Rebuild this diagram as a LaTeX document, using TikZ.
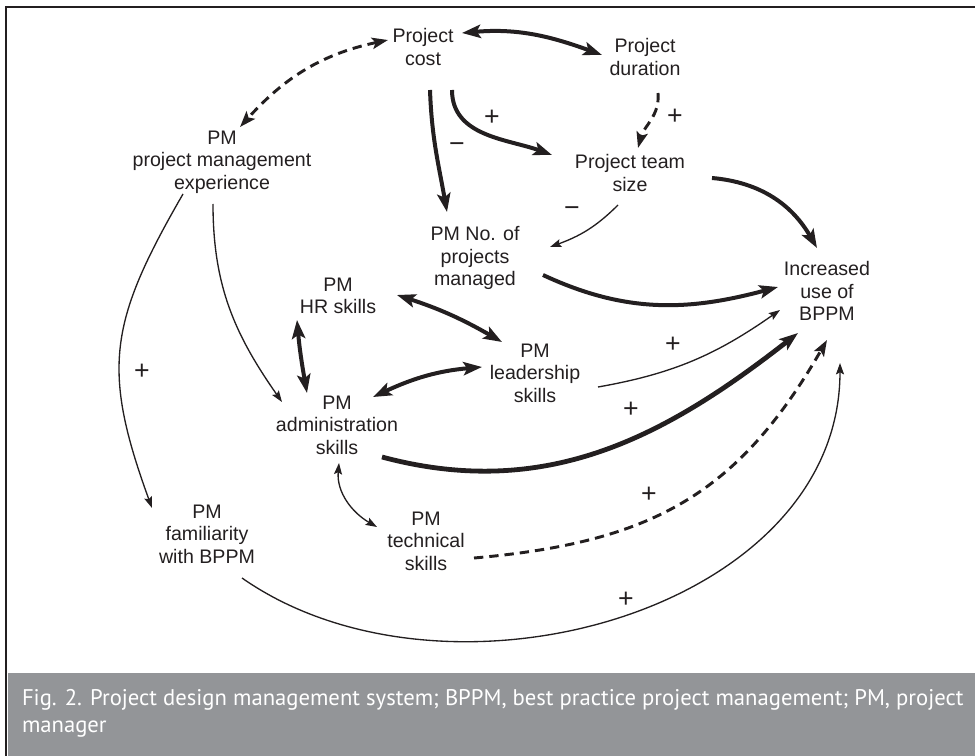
\documentclass[tikz,border=0pt]{standalone}
\usepackage{fontspec}
\setmainfont{Liberation Sans}
\newfontfamily\capfont{PT Sans}
\usetikzlibrary{arrows.meta}
\usetikzlibrary{calc}
\definecolor{capgray}{RGB}{147,149,152}
\definecolor{ink}{RGB}{35,31,32}

\begin{document}
\begin{tikzpicture}[x=0.75pt,y=0.75pt,inner sep=0pt,outer sep=0pt,ink,
factor/.style={align=center,font=\fontsize{14.7}{16.9}\selectfont},
sign/.style={font=\fontsize{20}{22}\selectfont},
weak/.style={line width=1pt,>={Stealth[length=8.5pt,width=6pt,inset=1.5pt]}},
strong/.style={line width=3pt,>={Stealth[length=14pt,width=10pt,inset=3pt]}},
heavy/.style={strong,line width=3.6pt},
dashlink/.style={line width=2.2pt,dash pattern=on 7pt off 4.5pt,>={Stealth[length=12pt,width=8.5pt,inset=2.5pt]}}]
\useasboundingbox (0,0) rectangle (975,-756);
\fill[capgray] (8,-673) rectangle (975,-756);
\draw[line width=2.2pt,line cap=rect] (975,-7) -- (6,-7) -- (6,-756);

\node[factor] (cost) at (423,-47) {Project\\cost};
\node[factor] (dur) at (645,-57) {Project\\duration};
\node[factor] (exp) at (222,-162) {PM\\project management\\experience};
\node[factor] (team) at (630,-173) {Project team\\size};
\node[factor] (nprj) at (475,-258) {PM No. of\\projects\\managed};
\node[factor] (bppm) at (827,-291) {Increased\\use of\\BPPM};
\node[factor] (hr) at (338,-296) {PM\\HR skills};
\node[factor] (lead) at (535,-373) {PM\\leadership\\skills};
\node[factor] (admin) at (337,-425) {PM\\administration\\skills};
\node[factor] (fam) at (207,-534) {PM\\familiarity\\with BPPM};
\node[factor] (tech) at (426,-541) {PM\\technical\\skills};

\draw[dashlink,<->] ($(cost)+(-35,7)$) to[out=192,in=48] ($(exp)+(18,35)$);
\draw[strong,<->] ($(cost)+(39,14)$) to[out=5,in=160] ($(dur)+(-43,2)$);
\draw[strong,->] ($(cost)+(7,-43)$) to[out=-88,in=100] ($(nprj)+(-28,46)$);
\draw[strong,->] ($(cost)+(29,-43)$) to[out=-90,in=160] ($(team)+(-78,18)$);
\draw[dashlink,->] ($(dur)+(13,-36)$) to[out=-85,in=75] ($(team)+(8,25)$);
\draw[weak,->] ($(team)+(-12,-32)$) to[out=225,in=20] ($(nprj)+(75,11)$);
\draw[strong,->] ($(team)+(82,-5)$) to[out=-5,in=120] ($(bppm)+(-10,43)$);
\draw[strong,->] ($(nprj)+(68,-17)$) to[out=-25,in=195] ($(bppm)+(-49,4)$);
\draw[strong,<->] ($(hr)+(59,1)$) to[out=-18,in=150] ($(lead)+(-33,31)$);
\draw[strong,<->] ($(hr)+(-41,-24)$) to[out=-85,in=100] ($(admin)+(-30,32)$);
\draw[strong,<->] ($(admin)+(36,28)$) to[out=25,in=185] ($(lead)+(-53,6)$);
\draw[weak,->] ($(lead)+(63,-14)$) to[out=10,in=215] ($(bppm)+(-47,-19)$);
\draw[heavy,->] ($(admin)+(45,-32)$) to[out=-15,in=218] ($(bppm)+(-29,-42)$);
\draw[weak,->] ($(exp)+(-9,-42)$) to[out=-90,in=125] ($(admin)+(-55,23)$);
\draw[weak,->] ($(exp)+(-39,-32)$) to[out=-120,in=110,looseness=1.2] ($(fam)+(-55,26)$);
\draw[weak,<->] ($(admin)+(2,-38)$) to[out=-95,in=150] ($(tech)+(-49,14)$);
\draw[dashlink,->] ($(tech)+(48,-17)$) to[out=5,in=240,looseness=1.1] ($(bppm)+(0,-49)$);
\draw[weak,->] ($(fam)+(35,-44)$) to[out=-35,in=-90] ($(bppm)+(13,-72)$);

\node[sign] (plusCT) at (492,-118) {+};
\node[sign] (plusDT) at (675,-117) {+};
\node[sign] (minusCN) at (457,-148) {−};
\node[sign] (minusTN) at (572,-212) {−};
\node[sign] (plusLB) at (673,-345) {+};
\node[sign] (plusAB) at (631,-410) {+};
\node[sign] (plusTB) at (649,-495) {+};
\node[sign] (plusFB) at (626,-600) {+};
\node[sign] (plusEF) at (142,-372) {+};

\node[anchor=north west,align=left,text=white,font=\capfont\fontsize{17}{20.5}\selectfont] (caption) at (22,-689)
{Fig. 2. Project design management system; BPPM, best practice project management; PM, project\\manager};
\end{tikzpicture}
\end{document}
